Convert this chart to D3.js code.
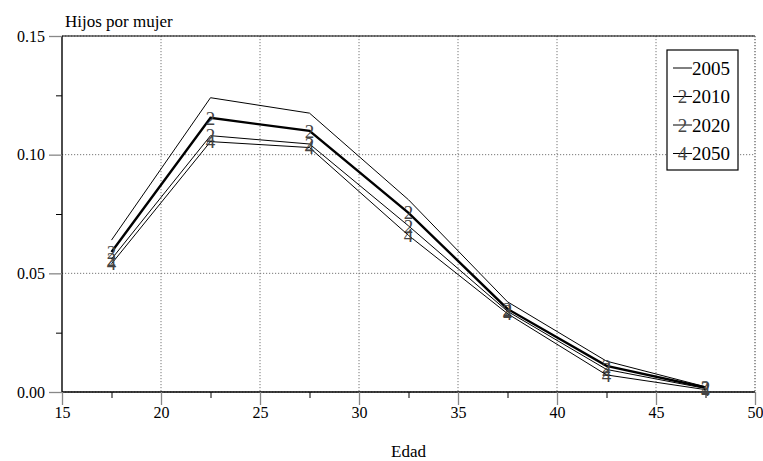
<!DOCTYPE html>
<html>
<head>
<meta charset="utf-8">
<script src="https://cdn.jsdelivr.net/npm/d3@7"></script>
<style>
  #chart, #chart * { font-family: Times, Tinos, "Liberation Serif", serif; }
</style>
</head>
<body style="margin:0">
<svg id="chart" width="763" height="461" style="font-family: Times, Tinos, 'Liberation Serif', serif"></svg>
<script>
// ages (midpoints of 5-year groups)
const edades = [17.5, 22.5, 27.5, 32.5, 37.5, 42.5, 47.5];
const years = ["2005", "2010", "2020", "2050"];
const v2005 = [0.064, 0.124, 0.1175, 0.081, 0.038, 0.013, 0.0022];
const v2010 = [0.059, 0.1155, 0.110, 0.0755, 0.035, 0.011, 0.0019];
const v2020 = [0.056, 0.108, 0.1045, 0.070, 0.034, 0.0095, 0.0015];
const v2050 = [0.054, 0.1055, 0.103, 0.066, 0.033, 0.0072, 0.0010];
const xTicks = [15, 20, 25, 30, 35, 40, 45, 50];
const yTicks = [0.00, 0.05, 0.10, 0.15];

const seriesVals = [v2005, v2010, v2020, v2050];
const markers = ["", "2", "2", "4"];
const widths = [1, 2.4, 1, 1];
const fam = "Times, Tinos, 'Liberation Serif', serif";

const W = 763, H = 461;
const margin = {top: 36, right: 8, bottom: 69, left: 62};
const width = W - margin.left - margin.right,
      height = H - margin.top - margin.bottom;

const svg = d3.select("#chart");
const g = svg.append("g").attr("transform", "translate(" + margin.left + "," + margin.top + ")");

const x = d3.scaleLinear().domain([15, 50]).range([0, width]);
const y = d3.scaleLinear().domain([0, 0.15]).range([height, 0]);

// grid
g.selectAll(".vgrid").data(xTicks.slice(1)).enter().append("line")
  .attr("x1", d => x(d)).attr("x2", d => x(d))
  .attr("y1", 0).attr("y2", height)
  .style("stroke", "#777").style("stroke-dasharray", "1.2,1.8").style("stroke-width", 1);
g.selectAll(".hgrid").data(yTicks).enter().append("line")
  .attr("x1", 0).attr("x2", width)
  .attr("y1", d => y(d)).attr("y2", d => y(d))
  .style("stroke", "#777").style("stroke-dasharray", "1.2,1.8").style("stroke-width", 1);

// frame
g.append("line").attr("x1", 0).attr("x2", width).attr("y1", 0).attr("y2", 0)
  .style("stroke", "#000").style("stroke-width", 1.2);
g.append("line").attr("x1", 0).attr("x2", width).attr("y1", height).attr("y2", height)
  .style("stroke", "#000").style("stroke-width", 1.4);
g.append("line").attr("x1", 0).attr("x2", 0).attr("y1", 0).attr("y2", height)
  .style("stroke", "#000").style("stroke-width", 1.4);

// x axis
const xAxis = d3.axisBottom(x).tickValues(xTicks).tickSize(13).tickPadding(3).tickFormat(d3.format("d"));
const xg = g.append("g").attr("transform", "translate(0," + height + ")").call(xAxis);
xg.attr("font-family", null).attr("font-size", null);
xg.select(".domain").remove();
xg.selectAll(".tick line").style("stroke", "#888").style("stroke-width", 1.3);
xg.selectAll(".tick text").style("fill", "#000").attr("y", 15)
  .style("font-family", fam).style("font-size", "16px");
const xMinor = d3.axisBottom(x).tickValues(d3.range(17.5, 50, 5)).tickSize(6).tickFormat("");
const xmg = g.append("g").attr("transform", "translate(0," + height + ")").call(xMinor);
xmg.select(".domain").remove();
xmg.selectAll(".tick line").style("stroke", "#000");

// y axis
const yAxis = d3.axisLeft(y).tickValues(yTicks).tickSize(13).tickPadding(4).tickFormat(d3.format(".2f"));
const yg = g.append("g").call(yAxis);
yg.attr("font-family", null).attr("font-size", null);
yg.select(".domain").remove();
yg.selectAll(".tick line").style("stroke", "#888").style("stroke-width", 1.3);
yg.selectAll(".tick text").style("fill", "#000")
  .style("font-family", fam).style("font-size", "16px");
const yMinor = d3.axisLeft(y).tickValues([0.025, 0.075, 0.125]).tickSize(6).tickFormat("");
const ymg = g.append("g").call(yMinor);
ymg.select(".domain").remove();
ymg.selectAll(".tick line").style("stroke", "#000");

// right border dotted
g.append("line").attr("x1", width).attr("x2", width).attr("y1", 0).attr("y2", height)
  .style("stroke", "#777").style("stroke-dasharray", "1.2,1.8");

// lines
const line = d3.line().x((d, i) => x(edades[i])).y(d => y(d));
seriesVals.forEach(function(vals, s) {
  g.append("path").datum(vals)
    .attr("d", line)
    .style("fill", "none").style("stroke", "#000")
    .style("stroke-width", widths[s]).style("stroke-linejoin", "miter");
  if (markers[s]) {
    g.selectAll(".m" + s).data(vals).enter().append("text")
      .attr("x", (d, i) => x(edades[i]))
      .attr("y", d => y(d))
      .attr("dy", "0.35em")
      .attr("text-anchor", "middle")
      .style("font-family", fam).style("font-size", "19px")
      .style("fill", "#444")
      .text(markers[s]);
  }
});

// legend
const lg = svg.append("g").attr("transform", "translate(667,50)");
lg.append("rect").attr("x", 0).attr("y", 0).attr("width", 71).attr("height", 120)
  .style("fill", "#fff").style("stroke", "#000").style("stroke-width", 1.2);
years.forEach(function(yr, s) {
  const yy = 18 + s * 28.5;
  lg.append("line").attr("x1", 6).attr("x2", 25).attr("y1", yy).attr("y2", yy)
    .style("stroke", "#000").style("stroke-width", 1);
  if (markers[s]) {
    lg.append("text").attr("x", 15.5).attr("y", yy).attr("dy", "0.35em")
      .attr("text-anchor", "middle")
      .style("font-family", fam).style("font-size", "19px")
      .style("fill", "#444")
      .text(markers[s]);
  }
  lg.append("text").attr("x", 25).attr("y", yy).attr("dy", "0.35em")
    .style("font-family", fam).style("font-size", "19px")
    .style("fill", "#000").text(yr);
});

// titles
svg.append("text").attr("x", 65).attr("y", 27)
  .style("font-family", fam).style("font-size", "17px").text("Hijos por mujer");
svg.append("text").attr("x", margin.left + width / 2).attr("y", 457)
  .attr("text-anchor", "middle")
  .style("font-family", fam).style("font-size", "17px").text("Edad");
</script>
</body>
</html>
